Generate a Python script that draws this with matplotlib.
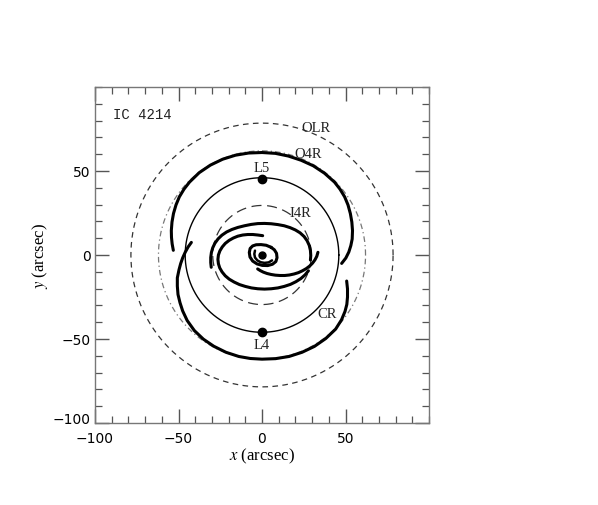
import numpy as np
import matplotlib
matplotlib.use("Agg")
import matplotlib.pyplot as plt
from matplotlib.ticker import MultipleLocator, FixedLocator

# ---- data ----
circle_names = ["OLR", "O4R", "CR", "I4R"]
circle_radii = [78.5, 62.0, 46.0, 29.5]

lagrange_names = ["L5", "L4"]
lagrange_x = [0.0, 0.0]
lagrange_y = [45.5, -46.0]

center_x = [0.0]
center_y = [0.0]

outer_top_x = [-53.1, -53.8, -54.2, -54.3, -53.9, -53.0, -51.5, -49.5, -46.7, -43.4, -37.6, -30.9, -23.6, -15.9,
               -8.0, 0.0, 8.0, 15.8, 23.4, 30.7, 37.4, 43.4, 46.7, 49.5, 51.5, 52.9, 53.8, 54.2, 54.0, 53.2,
               52.0, 50.2, 47.7]
outer_top_y = [2.8, 6.6, 10.5, 14.5, 19.6, 24.7, 29.8, 34.6, 39.2, 43.4, 49.0, 53.5, 57.0, 59.4,
               60.7, 61.0, 60.5, 58.9, 56.4, 53.1, 48.7, 43.4, 39.2, 34.6, 29.8, 24.7, 19.6, 14.5, 9.5, 5.6,
               1.8, -1.8, -5.0]

outer_bot_x = [-42.3, -44.3, -46.0, -47.5, -48.7, -49.7, -50.7, -50.7, -50.3, -49.1, -47.5, -44.8, -40.5, -35.1,
               -28.9, -21.6, -13.9, -7.0, 0.0, 8.1, 16.2, 24.0, 31.4, 38.2, 44.1, 47.6, 49.7, 50.8, 51.2,
               51.2, 50.7]
outer_bot_y = [7.5, 4.7, 1.6, -1.7, -5.1, -8.8, -13.6, -18.5, -23.5, -28.4, -33.3, -39.0, -45.0, -50.1,
               -54.3, -57.9, -60.4, -61.6, -62.0, -61.7, -60.4, -57.9, -54.4, -49.7, -44.1, -38.6, -33.6, -29.4, -25.0,
               -20.2, -15.5]

inner_a_x = [-30.4, -30.7, -30.7, -30.3, -29.5, -28.2, -26.3, -24.0, -21.2, -18.0, -14.5, -10.5, -6.5, -2.5,
             1.5, 5.5, 9.5, 13.3, 16.8, 20.0, 22.8, 25.2, 27.0, 28.3, 29.0, 29.2, 29.0]
inner_a_y = [-7.3, -4.5, -1.5, 1.5, 4.3, 7.0, 9.6, 11.8, 13.7, 15.2, 16.4, 17.4, 18.2, 18.7,
             18.8, 18.6, 18.1, 17.4, 16.3, 14.9, 13.2, 11.0, 8.5, 5.7, 2.7, -0.3, -3.0]

inner_b_x = [0.4, -2.5, -5.5, -8.5, -11.5, -14.5, -17.2, -19.7, -22.0, -23.8, -25.2, -26.1, -26.4, -26.1,
             -25.3, -23.9, -22.0, -19.6, -16.7, -13.5, -10.0, -6.3, -2.5, 1.5, 5.5, 9.5, 13.3, 17.0, 20.3,
             23.3, 25.8, 27.8]
inner_b_y = [11.5, 11.9, 12.2, 12.2, 11.9, 11.2, 10.1, 8.7, 6.9, 4.8, 2.5, 0.0, -2.6, -5.2,
             -7.7, -10.1, -12.4, -14.4, -16.1, -17.6, -18.7, -19.6, -20.1, -20.3, -20.1, -19.6, -18.7, -17.5, -15.9,
             -14.0, -11.8, -9.4]

inner_c_x = [-2.6, -1.0, 0.8, 3.0, 5.5, 8.0, 10.8, 13.6, 16.4, 19.2, 21.8, 24.2, 26.5, 28.5, 30.3, 31.7, 32.8, 33.5]
inner_c_y = [-8.3, -9.3, -10.2, -11.0, -11.6, -12.0, -12.2, -12.2, -11.9, -11.3, -10.5, -9.4, -8.1, -6.6, -4.8, -2.9, -0.8, 1.6]

core_outer_x = [5.4, 2.5, -0.6, -3.5, -5.6, -7.1, -7.6, -7.2, -5.6, -3.0, 0.2, 3.4, 6.3, 8.3, 9.0, 8.7, 7.4, 5.4]
core_outer_y = [4.6, 5.8, 6.2, 6.1, 5.4, 3.9, 1.5, -1.2, -3.6, -5.3, -6.2, -6.3, -5.5, -3.9, -1.6, 1.0, 3.1, 4.6]
core_inner_x = [-4.2, -4.6, -4.2, -2.8, -0.8, 1.5, 4.0, 6.0]
core_inner_y = [2.6, 0.6, -1.5, -3.2, -4.3, -4.7, -4.4, -3.2]

labels = ["IC 4214", "OLR", "O4R", "L5", "I4R", "CR", "L4"]
label_x = [-89.0, 32.5, 27.6, 0.0, 23.2, 38.7, 0.0]
label_y = [84.0, 76.0, 60.5, 52.2, 25.4, -35.1, -53.4]

xticks = [-100, -50, 0, 50]
yticks = [-100, -50, 0, 50]
tick_labels = ["\u2212100", "\u221250", "0", "50"]

# ---- figure ----
plt.rcParams['mathtext.fontset'] = 'stix'
fig = plt.figure(figsize=(5.98, 5.06), dpi=100)
ax = fig.add_axes([95/598, (506-424)/506, 334/598, 336/506])
ax.set_xlim(-100, 100)
ax.set_ylim(-100, 100)

theta = np.linspace(0, 2*np.pi, 721)
styles = {
    "OLR": dict(color="#333333", lw=0.9, dashes=(4.5, 3.5)),
    "O4R": dict(color="#777777", lw=0.9, dashes=(4.5, 2.5, 1.0, 2.5)),
    "CR": dict(color="black", lw=1.0, linestyle="-"),
    "I4R": dict(color="#333333", lw=0.9, dashes=(8.0, 4.5)),
}
for name, r in zip(circle_names, circle_radii):
    ax.plot(r*np.cos(theta), r*np.sin(theta), **styles[name], zorder=2)

arm_kw = dict(color="black", lw=2.2, solid_capstyle="round", solid_joinstyle="round", zorder=3)
ax.plot(outer_top_x, outer_top_y, **arm_kw)
ax.plot(outer_bot_x, outer_bot_y, **arm_kw)
ax.plot(inner_a_x, inner_a_y, **arm_kw)
ax.plot(inner_b_x, inner_b_y, **arm_kw)
ax.plot(inner_c_x, inner_c_y, **arm_kw)
ax.plot(core_outer_x, core_outer_y, **arm_kw)
ax.plot(core_inner_x, core_inner_y, **dict(arm_kw, lw=1.8))

ax.plot(lagrange_x, lagrange_y, 'o', color='black', ms=6, zorder=4)
ax.plot(center_x, center_y, 'o', color='black', ms=5, zorder=4)

for t, x, y in zip(labels, label_x, label_y):
    if t == "IC 4214":
        ax.text(x, y, t, ha='left', va='center', fontsize=10, family='Liberation Mono', color='#222222')
    else:
        ax.text(x, y, t, ha='center', va='center', fontsize=10.5, family='Liberation Serif', color='#222222')

ax.xaxis.set_major_locator(FixedLocator(xticks))
ax.yaxis.set_major_locator(FixedLocator(yticks))
ax.xaxis.set_minor_locator(MultipleLocator(10))
ax.yaxis.set_minor_locator(MultipleLocator(10))
ax.tick_params(which='both', direction='in', top=True, right=True, colors='#555555', labelcolor='black', labelsize=10)
ax.tick_params(which='major', length=10, width=1.0)
ax.tick_params(axis='x', which='major', pad=6)
ax.tick_params(axis='y', which='major', pad=3)
ax.tick_params(which='minor', length=5, width=0.9)
for s in ax.spines.values():
    s.set_color('#777777')
    s.set_linewidth(1.0)
ax.set_xticklabels(tick_labels)
ax.set_yticklabels(tick_labels)
for lab in ax.get_xticklabels() + ax.get_yticklabels():
    lab.set_family('DejaVu Sans')
ax.get_yticklabels()[0].set_verticalalignment('baseline')

ax.set_xlabel(r"$x$ (arcsec)", fontsize=12, family='Liberation Serif', labelpad=0)
ax.set_ylabel(r"$y$ (arcsec)", fontsize=12, family='Liberation Serif', labelpad=2)

fig.savefig("out.png", dpi=100)
